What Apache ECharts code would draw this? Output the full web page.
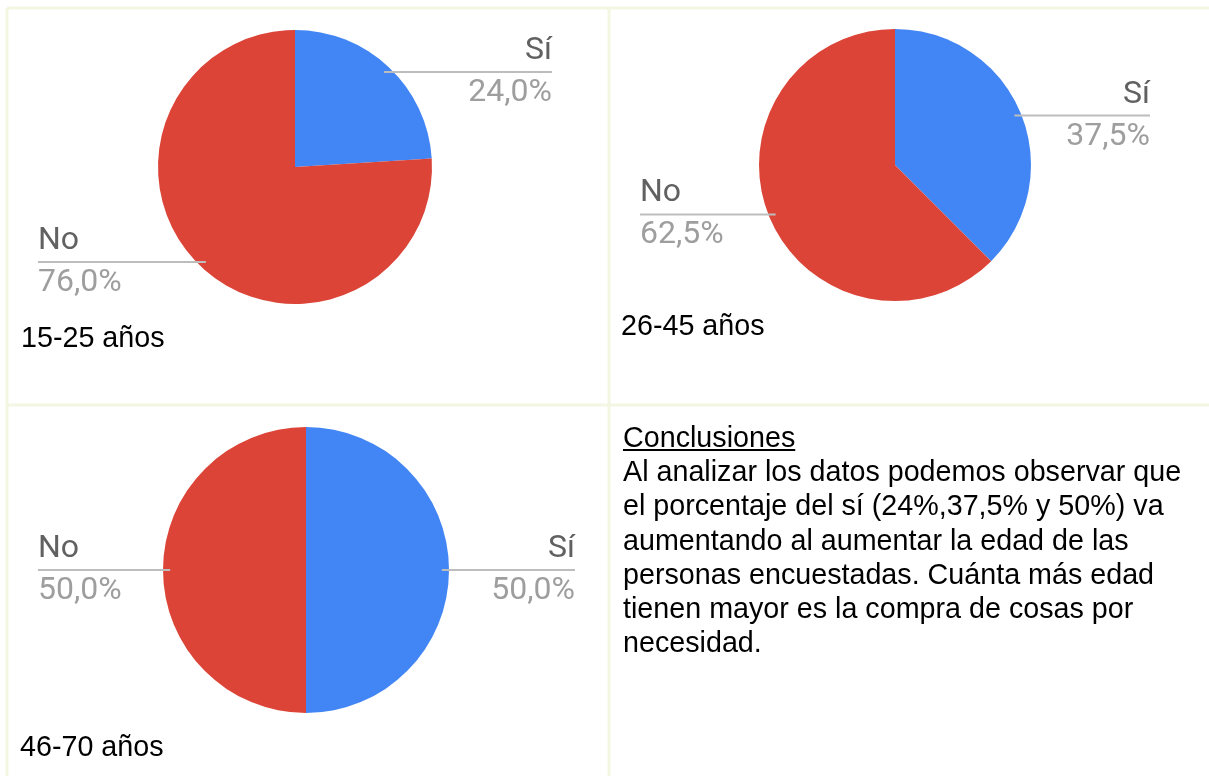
<!DOCTYPE html>
<html>
<head>
<meta charset="utf-8">
<title>Encuesta por edades</title>
<script src="https://cdn.jsdelivr.net/npm/echarts@6/dist/echarts.min.js"></script>
<style>
  html, body {
    margin: 0;
    padding: 0;
    background: #ffffff;
  }
  #page {
    position: relative;
    width: 1209px;
    height: 776px;
  }
  #chart {
    position: absolute;
    left: 0;
    top: 0;
    width: 1209px;
    height: 776px;
  }
  /* conclusiones, celda inferior derecha */
  #conclusions {
    position: absolute;
    left: 623px;
    top: 420px;
    font-family: "Liberation Sans", Arial, sans-serif;
    font-size: 28.7px;
    line-height: 34.2px;
    color: #000000;
    white-space: nowrap;
  }
</style>
</head>
<body>
<div id="page">
  <div id="chart"></div>
  <div id="conclusions">
    <u>Conclusiones</u><br>
    Al analizar los datos podemos observar que<br>
    el porcentaje del sí (24%,37,5% y 50%) va<br>
    aumentando al aumentar la edad de las<br>
    personas encuestadas. Cuánta más edad<br>
    tienen mayor es la compra de cosas por<br>
    necesidad.
  </div>
</div>
<script>
// datos
const groups = ['15-25 años', '26-45 años', '46-70 años'];
const answers = ['Sí', 'No'];
const siValues = [24.0, 37.5, 50.0];
const noValues = [76.0, 62.5, 50.0];

// posición de cada tarta (caja de etiquetas, centro, radio) y del pie de cada celda
const boxes = [
  { left: 38, width: 514, cx: 295, cy: 167, r: 137 },
  { left: 640, width: 510, cx: 895, cy: 165, r: 136 },
  { left: 38, width: 537, cx: 306, cy: 570, r: 143 }
];
const captions = [
  { x: 21, y: 339 },
  { x: 621, y: 327 },
  { x: 20, y: 748 }
];

const colors = ['#4285f4', '#db4437'];
const gridColor = '#f3f6e2';

/**
 * Línea de etiqueta estilo hoja de cálculo: horizontal, desde dentro del sector
 * hasta el extremo exterior del texto
 */
function makeLabelLayout(box) {
  return function (params) {
    const pts = params.labelLinePoints;
    if (!pts) {
      return {};
    }
    const p0 = pts[0];
    const sx = box.cx + (p0[0] - box.cx) * 0.95;
    const sy = box.cy + (p0[1] - box.cy) * 0.95;
    const rect = params.labelRect;
    const onRight = p0[0] >= box.cx;
    const endX = onRight ? rect.x + rect.width : rect.x;
    return {
      y: sy,
      verticalAlign: 'middle',
      labelLinePoints: [[sx, sy], [endX, sy]]
    };
  };
}

function formatPercent(p) {
  return p.toFixed(1).replace('.', ',') + '%';
}

function pieData(i, transparent) {
  return [
    { name: answers[0], value: siValues[i], itemStyle: { color: transparent ? 'rgba(0,0,0,0)' : colors[0] } },
    { name: answers[1], value: noValues[i], itemStyle: { color: transparent ? 'rgba(0,0,0,0)' : colors[1] } }
  ];
}

function basePie(i, overlay) {
  const box = boxes[i];
  return {
    name: groups[i] + (overlay ? ' etiquetas' : ''),
    type: 'pie',
    z: overlay ? 3 : 2,
    left: box.left,
    width: box.width,
    top: 0,
    height: 776,
    center: [box.cx - box.left, box.cy],
    radius: box.r,
    startAngle: 90,
    clockwise: true,
    silent: true,
    data: pieData(i, overlay),
    itemStyle: {
      borderWidth: 0
    }
  };
}

const series = [];
groups.forEach((g, i) => {
  // sectores
  let pie = basePie(i, false);
  pie.label = { show: false };
  pie.labelLine = { show: false };
  series.push(pie);

  // misma tarta transparente encima, solo para que las etiquetas y sus líneas queden por delante
  let labels = basePie(i, true);
  labels.label = {
    show: true,
    position: 'outside',
    alignTo: 'edge',
    edgeDistance: 0,
    formatter: params => `{n|${params.name}}\n{v|${formatPercent(params.percent)}}`,
    rich: {
      n: {
        fontFamily: 'Roboto',
        fontSize: 32,
        lineHeight: 42,
        color: '#616161'
      },
      v: {
        fontFamily: 'Roboto',
        fontSize: 32,
        lineHeight: 42,
        color: '#9e9e9e'
      }
    }
  };
  labels.labelLine = {
    show: true,
    length: 0,
    length2: 10,
    smooth: false,
    lineStyle: {
      color: '#bdbdbd',
      width: 2
    }
  };
  labels.labelLayout = makeLabelLayout(boxes[i]);
  series.push(labels);
});

const graphic = [
  // rejilla de la tabla
  { type: 'line', shape: { x1: 7, y1: 8, x2: 1209, y2: 8 }, style: { stroke: gridColor, lineWidth: 3 } },
  { type: 'line', shape: { x1: 7, y1: 8, x2: 7, y2: 776 }, style: { stroke: gridColor, lineWidth: 3 } },
  { type: 'line', shape: { x1: 609, y1: 8, x2: 609, y2: 776 }, style: { stroke: gridColor, lineWidth: 3 } },
  { type: 'line', shape: { x1: 7, y1: 405, x2: 1209, y2: 405 }, style: { stroke: gridColor, lineWidth: 3 } }
];
groups.forEach((g, i) => {
  graphic.push({
    type: 'text',
    x: captions[i].x,
    y: captions[i].y,
    style: {
      text: g,
      fontFamily: 'Liberation Sans',
      fontSize: 28.7,
      fill: '#000000',
      verticalAlign: 'middle'
    }
  });
});

const chart = echarts.init(document.getElementById('chart'));
chart.setOption({
  animation: false,
  graphic: graphic,
  series: series
});
</script>
</body>
</html>
